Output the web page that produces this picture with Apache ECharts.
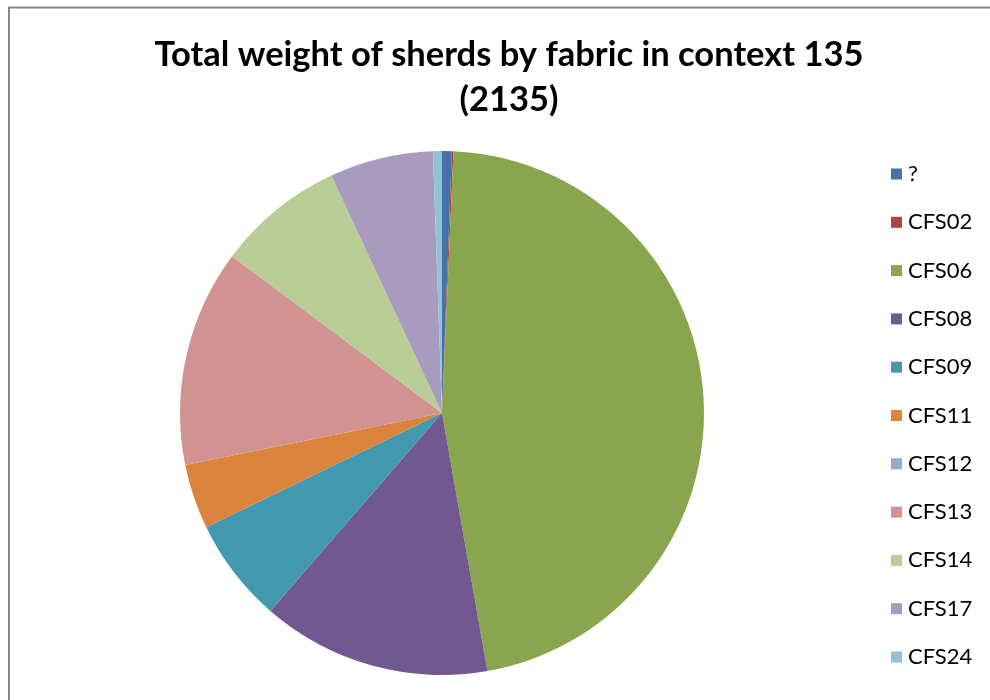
<!DOCTYPE html>
<html lang="en">
<head>
<meta charset="UTF-8" />
<script src="https://cdn.jsdelivr.net/npm/echarts@6/dist/echarts.min.js"></script>
<style>
  html, body { margin: 0; padding: 0; background: #fff; }
  #main { width: 990px; height: 700px; }
</style>
</head>
<body>
<div id="main"></div>
<script>
// fabric categories and share of total weight (in %)
var fabrics = ['?', 'CFS02', 'CFS06', 'CFS08', 'CFS09', 'CFS11', 'CFS12', 'CFS13', 'CFS14', 'CFS17', 'CFS24'];
var weights = [0.6, 0.1, 46.55, 14.15, 6.45, 4.0, 0, 13.4, 7.85, 6.4, 0.55];
var colours = ['#4572A7', '#AA4643', '#89A54E', '#71588F', '#4198AF', '#DB843D',
               '#93A9CF', '#D19392', '#B9CD96', '#A99BBD', '#92C3D4'];

var chart = echarts.init(document.getElementById('main'));

var pieData = fabrics.map(function (name, i) {
  return { name: name, value: weights[i], itemStyle: { color: colours[i] } };
});

chart.setOption({
  animation: false,
  title: {
    text: 'Total weight of sherds by fabric in context 135\n(2135)',
    left: 504,
    top: 27,
    textAlign: 'center',
    textStyle: {
      fontFamily: 'Lato',
      fontWeight: 'bold',
      fontSize: 34.5,
      lineHeight: 45,
      color: '#000'
    }
  },
  graphic: [{
    type: 'rect',
    shape: { x: 9, y: 7.5, width: 1000, height: 1000 },
    style: { fill: 'none', stroke: '#878787', lineWidth: 2 },
    silent: true
  }],
  legend: {
    orient: 'vertical',
    left: 886,
    top: 158,
    itemWidth: 11,
    itemHeight: 11,
    itemGap: 26.3,
    icon: 'rect',
    data: fabrics,
    textStyle: { fontFamily: 'Lato', fontSize: 22, color: '#000', padding: [0, 0, 0, 1] }
  },
  series: [{
    type: 'pie',
    center: [442, 413],
    radius: 262,
    startAngle: 90,
    clockwise: true,
    label: { show: false },
    labelLine: { show: false },
    emphasis: { disabled: true },
    itemStyle: { borderWidth: 0 },
    data: pieData
  }]
});
</script>
</body>
</html>
